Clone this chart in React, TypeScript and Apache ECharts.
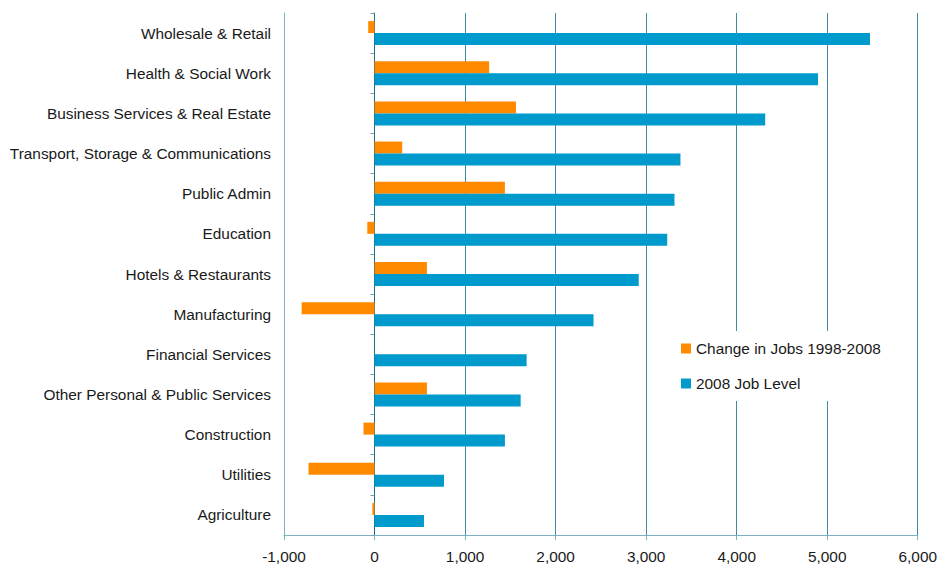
import React, { useEffect, useRef } from "react";
import * as echarts from "echarts";

const categories = [
  "Wholesale & Retail",
  "Health & Social Work",
  "Business Services & Real Estate",
  "Transport, Storage & Communications",
  "Public Admin",
  "Education",
  "Hotels & Restaurants",
  "Manufacturing",
  "Financial Services",
  "Other Personal & Public Services",
  "Construction",
  "Utilities",
  "Agriculture",
];

const changeInJobs = [-70, 1266, 1562, 306, 1440, -80, 579, -805, 0, 579, -122, -729, -24];
const jobLevel2008 = [5473, 4899, 4315, 3379, 3313, 3233, 2918, 2419, 1680, 1614, 1440, 767, 546];

const seriesNames = ["Change in Jobs 1998-2008", "2008 Job Level"];

const FONT = "'Liberation Sans', Arial, sans-serif";
const FS = 15.4;

export default function App() {
  const ref = useRef<HTMLDivElement>(null);
  useEffect(() => {
    document.body.style.margin = "0";
    const chart = echarts.init(ref.current!, null, { renderer: "svg" });
    chart.setOption({
      animation: false,
      backgroundColor: "#ffffff",
      textStyle: { fontFamily: FONT },
      grid: { left: 284, right: 20, top: 13, bottom: 32, containLabel: false },
      legend: {
        orient: "vertical",
        left: 661,
        top: 331,
        padding: [10, 20],
        itemGap: 20,
        itemWidth: 10,
        itemHeight: 10,
        backgroundColor: "#ffffff",
        icon: "rect",
        data: seriesNames,
        textStyle: { fontSize: FS, color: "#1a1a1a", fontFamily: FONT },
      },
      xAxis: {
        type: "value",
        min: -1000,
        max: 6000,
        interval: 1000,
        axisLine: { show: true, onZero: false, lineStyle: { color: "#7fb3c4", width: 1 } },
        axisTick: { show: true, length: 5, lineStyle: { color: "#7fb3c4" } },
        axisLabel: {
          fontSize: FS,
          color: "#1a1a1a",
          margin: 14,
          fontFamily: FONT,
          formatter: (v: number) => v.toLocaleString("en-US"),
        },
        splitLine: { show: true, lineStyle: { color: "#3f8aa0", width: 1 } },
      },
      yAxis: [
        {
          type: "category",
          inverse: true,
          data: categories,
          position: "left",
          axisLine: { show: true, onZero: false, lineStyle: { color: "#7fb3c4", width: 1 } },
          axisTick: { show: false },
          axisLabel: { fontSize: FS, color: "#1a1a1a", margin: 13, fontFamily: FONT },
          splitLine: { show: false },
        },
        {
          type: "category",
          inverse: true,
          data: categories,
          position: "left",
          axisLine: { show: true, onZero: true, lineStyle: { color: "#1f6e87", width: 1 } },
          axisTick: { show: true, length: 4, lineStyle: { color: "#6aa3b6" } },
          axisLabel: { show: false },
          splitLine: { show: false },
        },
      ],
      series: [
        {
          name: seriesNames[0],
          type: "bar",
          yAxisIndex: 0,
          data: changeInJobs,
          barWidth: 12,
          barGap: "0%",
          itemStyle: { color: "#FF8A00" },
        },
        {
          name: seriesNames[1],
          type: "bar",
          yAxisIndex: 0,
          data: jobLevel2008,
          barWidth: 12,
          barGap: "0%",
          itemStyle: { color: "#009ACD" },
        },
      ],
    });
    return () => chart.dispose();
  }, []);
  return <div ref={ref} style={{ width: 940, height: 567 }} />;
}
